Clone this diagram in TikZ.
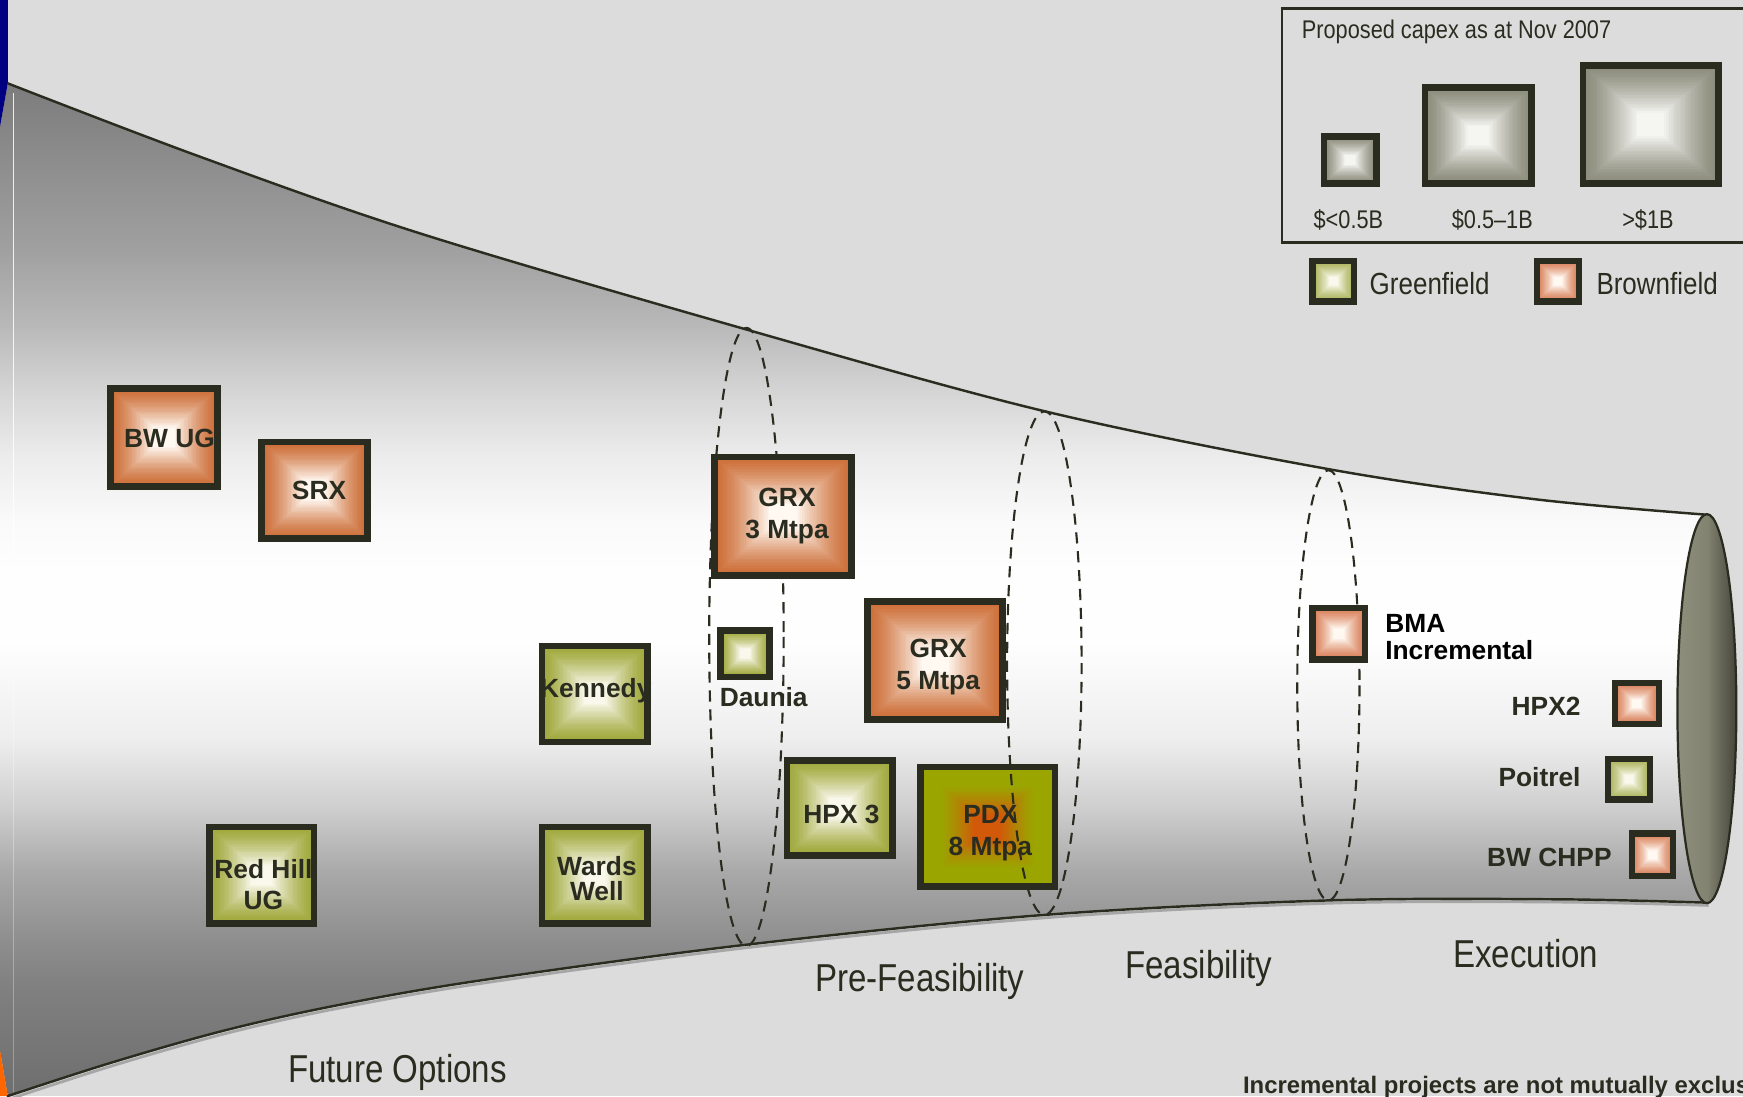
\documentclass[tikz,border=0pt]{standalone}
\usepackage{fontspec}
\setmainfont{Liberation Sans}
\newfontfamily\narrowf[FakeStretch=0.85]{Liberation Sans}
\usetikzlibrary{calc}
\definecolor{bgc}{HTML}{DCDCDC}
\definecolor{edgec}{HTML}{2B2C20}
\definecolor{navyc}{HTML}{000080}
\definecolor{orangec}{HTML}{FF6600}
\definecolor{orout}{HTML}{CD6E38}
\definecolor{orin}{HTML}{FFF9F2}
\definecolor{orsm}{HTML}{D9805A}
\definecolor{grout}{HTML}{9FA83A}
\definecolor{grin}{HTML}{FAF8EC}
\definecolor{grsm}{HTML}{AAB35A}
\definecolor{gyout}{HTML}{8C8C7C}
\definecolor{gyin}{HTML}{F5F5F2}
\definecolor{pdo}{HTML}{9AA500}
\definecolor{pdi}{HTML}{D2580A}
\definecolor{capl}{HTML}{8E8E7C}
\definecolor{capr}{HTML}{45453A}
\definecolor{f7c}{HTML}{7C7C7C}\definecolor{fa0}{HTML}{A0A0A0}\definecolor{fb8}{HTML}{B8B8B8}
\definecolor{fd4}{HTML}{D4D4D4}\definecolor{fec}{HTML}{ECECEC}\definecolor{ffa}{HTML}{FAFAFA}
\definecolor{ffe}{HTML}{FEFEFE}\definecolor{fee}{HTML}{EEEEEE}\definecolor{fcf}{HTML}{CFCFCF}
\definecolor{fa8}{HTML}{A8A8A8}\definecolor{f8e}{HTML}{8E8E8E}\definecolor{f80}{HTML}{808080}
\definecolor{f6e}{HTML}{6E6E6E}
\pgfdeclareverticalshading{funnelshade}{100bp}{
 color(0bp)=(f6e); color(25bp)=(f6e);
 color(30.4bp)=(f80); color(32.7bp)=(f8e); color(36bp)=(fa8); color(39.3bp)=(fcf);
 color(42.6bp)=(fee); color(47.5bp)=(ffe); color(50.9bp)=(ffe); color(53.3bp)=(ffa);
 color(56.6bp)=(fec); color(59.9bp)=(fd4); color(63.1bp)=(fb8); color(66.8bp)=(fa0);
 color(75bp)=(f7c); color(100bp)=(f7c)}
\pgfdeclarehorizontalshading{capshade}{100bp}{
 color(0bp)=(capl); color(25bp)=(capl); color(50bp)=(capl!85!capr); color(75bp)=(capr); color(100bp)=(capr)}
\newcommand{\gA}{1}
\newcommand{\gB}{0.2}
\tikzset{
 x=1pt,y=-1pt,
 sqbox/.style n args={3}{draw=edgec,fill=#1,line width=#3pt,inner sep=0pt,outer sep=0pt,
  path picture={
   \foreach \i in {0,...,32}{
    \pgfmathsetmacro\gg{\gA-\i/32*(\gA-\gB)}
    \pgfmathtruncatemacro\pp{100*(\i/32)^1.35}
    \fill[#2!\pp!#1] ($(path picture bounding box.center)!\gg!(path picture bounding box.south west)$)
      rectangle ($(path picture bounding box.center)!\gg!(path picture bounding box.north east)$);
   }}},
 lab/.style={font=\fontsize{23.7}{29}\selectfont\bfseries,text=edgec,inner sep=0pt,align=center},
 stage/.style={font=\fontsize{35}{38}\selectfont\narrowf,text=edgec,inner sep=0pt,anchor=west},
 keytxt/.style={font=\fontsize{23}{26}\selectfont\narrowf,text=edgec,inner sep=0pt},
 gatel/.style={draw=edgec,line width=1.9pt,dash pattern=on 10pt off 7pt},
 curvel/.style={draw=edgec,line width=2.2pt,line cap=round}
}
% \sq{name}{x0}{y0}{x1}{y1}{outer}{inner}{line}
\newcommand{\sq}[8]{%
 \pgfmathsetlengthmacro\wq{(#4)-(#2)-#8}%
 \pgfmathsetlengthmacro\hq{(#5)-(#3)-#8}%
 \node[sqbox={#6}{#7}{#8},minimum width=\wq,minimum height=\hq] (#1) at ({((#2)+(#4))/2},{((#3)+(#5))/2}) {};}
\newcommand{\topcurve}{(7,75) (180,141) (378,210) (670,296) (940,370) (1195,422) (1380,449) (1535,463)}
\newcommand{\botcurve}{(1535,812) (1400,809) (1195,810) (940,823) (670,850) (432,882) (300,905) (200,927.5) (100,956) (7,986)}
\begin{document}
\begin{tikzpicture}
\useasboundingbox (0,0) rectangle (1568,986);
\fill[bgc] (0,0) rectangle (1568,986);
% shadow of the lower edge
\draw[black!35,line width=2.5pt,shift={(2,2.5)}] plot[smooth,tension=0.55] coordinates {\botcurve};
% funnel body
\shade[shading=funnelshade] (0,114) -- plot[smooth,tension=0.55] coordinates {\topcurve} -- plot[smooth,tension=0.55] coordinates {\botcurve} -- (0,945) -- cycle;
% slivers of the slide behind
\fill[navyc] (0,0) -- (7,0) -- (7,75) -- (0,114) -- cycle;
\fill[orangec] (0,945) -- (7,986) -- (0,986) -- cycle;
\draw[white,opacity=.85,line width=1pt] (12.5,84) -- (12.5,500);
\draw[white,opacity=.3,line width=1pt] (12.5,500) -- (12.5,982);
\draw[curvel] plot[smooth,tension=0.55] coordinates {\topcurve};
\draw[curvel] plot[smooth,tension=0.55] coordinates {\botcurve};
% end cap
\shade[shading=capshade,draw=edgec,line width=2pt] (1535.5,637.5) ellipse [x radius=26.5,y radius=175];
% gates behind the boxes
\draw[gatel] (671.5,573) ellipse [x radius=33.5,y radius=278];
\draw[gatel] (1195,616.5) ellipse [x radius=28,y radius=193.5];
% boxes
\sq{bwug}{96.5}{346.5}{198.5}{440.5}{orout}{orin}{6}
\sq{srx}{232.5}{394.5}{333.5}{487.5}{orout}{orin}{6}
\sq{grxa}{640}{408}{769}{520.5}{orout}{orin}{6}
\sq{kennedy}{484.5}{578}{585.5}{670.5}{grout}{grin}{6}
\sq{daunia}{645}{564}{695.5}{612}{grout}{grin}{6}
\sq{grxb}{777.5}{538}{905}{650.5}{orout}{orin}{6}
\sq{hpxc}{705}{681}{806}{772.5}{grout}{grin}{6}
\renewcommand{\gA}{0.72}\renewcommand{\gB}{0.2}
\sq{pdx}{825}{687}{952}{800.5}{pdo}{pdi}{6}
\renewcommand{\gA}{1}\renewcommand{\gB}{0.2}
\sq{redhill}{185.5}{741}{285.5}{833.5}{grout}{grin}{6}
\sq{wards}{484.5}{741}{585.5}{833.5}{grout}{grin}{6}
\sq{bma}{1178}{544}{1231}{596}{orsm}{orin}{6}
\sq{hpxb}{1450}{612}{1495}{654}{orsm}{orin}{5.5}
\sq{poitrel}{1444}{680}{1487}{722}{grsm}{grin}{5.5}
\sq{bwchpp}{1465}{747}{1508}{791}{orsm}{orin}{5.5}
% gate in front of its boxes
\draw[gatel] (939.5,596.5) ellipse [x radius=33.5,y radius=226.5];
% box labels
\node[lab] (tbw) at (152.5,394) {BW UG};
\node[lab] (tsrx) at (287,441) {SRX};
\node[lab] (tgrxa) at (708,464.5) {GRX\\3 Mtpa};
\node[lab] (tken) at (536,621) {Kennedy};
\node[lab] (tdau) at (687,627.5) {Daunia};
\node[lab] (tgrxb) at (844,600) {GRX\\5 Mtpa};
\node[lab] (thpx) at (757,732.5) {HPX 3};
\node[lab,font=\fontsize{23.7}{28.5}\selectfont\bfseries] (tpdx) at (891,749.5) {PDX\\8 Mtpa};
\node[lab,font=\fontsize{23.7}{28}\selectfont\bfseries] (tred) at (237,796) {Red Hill\\UG};
\node[lab,font=\fontsize{23.7}{23}\selectfont\bfseries] (tward) at (537,790.5) {Wards\\Well};
\node[lab,text=black,align=left,anchor=west,font=\fontsize{23.7}{25}\selectfont\bfseries] (tbma) at (1246,573) {BMA\\Incremental};
\node[lab,anchor=east] (thpxb) at (1422,635) {HPX2};
\node[lab,anchor=east] (tpoi) at (1422,699) {Poitrel};
\node[lab,anchor=east] (tchpp) at (1450,771) {BW CHPP};
% stage labels
\node[stage] (sfo) at (259,965) {Future Options};
\node[stage] (spf) at (733,883) {Pre-Feasibility};
\node[stage] (sfe) at (1012,871) {Feasibility};
\node[stage] (sex) at (1307,858) {Execution};
\node[lab,anchor=west,font=\fontsize{21.5}{24}\selectfont\bfseries] (tnote) at (1118,978.5) {Incremental projects are not mutually exclus};
% capex key
\draw[draw=edgec,line width=2.2pt] (1153.5,7.5) rectangle (1580,218);
\node[keytxt,anchor=west] (kt) at (1171,28.5) {Proposed capex as at Nov 2007};
\sq{ka}{1188}{120}{1241}{168}{gyout}{gyin}{6}
\sq{kb}{1279}{76}{1381}{168}{gyout}{gyin}{6}
\sq{kc}{1421}{56}{1549}{168}{gyout}{gyin}{6}
\node[keytxt] (kla) at (1213,198) {\$<0.5B};
\node[keytxt] (klb) at (1342.5,198) {\$0.5–1B};
\node[keytxt] (klc) at (1482.5,198) {>\$1B};
\sq{kg}{1178}{232}{1221}{274}{grsm}{grin}{5.5}
\sq{kr}{1380}{232}{1423}{274}{orsm}{orin}{5.5}
\node[keytxt,anchor=west,font=\fontsize{27.5}{30}\selectfont\narrowf] (kgt) at (1232,255) {Greenfield};
\node[keytxt,anchor=west,font=\fontsize{27.5}{30}\selectfont\narrowf] (krt) at (1436,255) {Brownfield};
\end{tikzpicture}
\end{document}
